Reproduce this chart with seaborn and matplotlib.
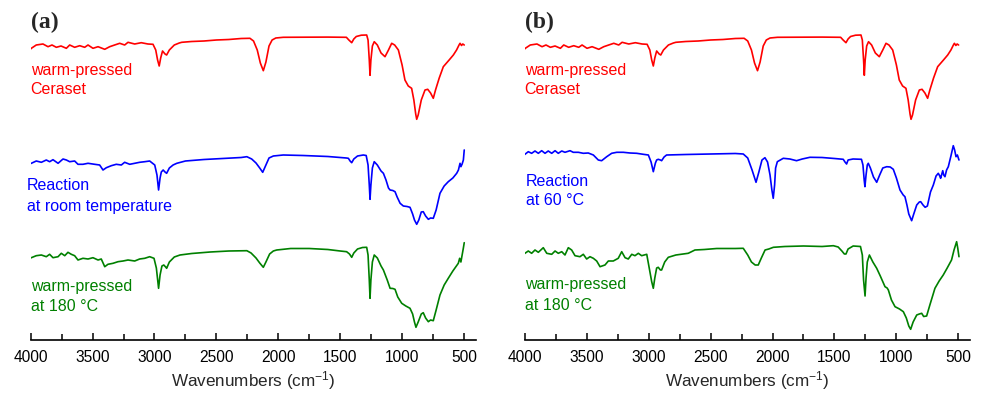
import numpy as np
import matplotlib
matplotlib.use("Agg")
import matplotlib.pyplot as plt
import seaborn as sns
from matplotlib.ticker import MultipleLocator

# ---------------- data (wavenumber cm-1, signal in arbitrary units; larger = lower on plot) ----
red_ceraset = np.array([
    (4000, 49), (3995, 48.3), (3955, 45), (3901, 44), (3860, 46.7), (3828, 45), (3793, 47.3),
    (3755, 46), (3712, 48.3), (3685, 45), (3645, 47.3), (3604, 45.7), (3564, 47.3), (3537, 45),
    (3497, 48.3), (3456, 46.7), (3402, 49.3), (3362, 46.7), (3322, 45), (3281, 43.3), (3241, 45),
    (3214, 42.3), (3160, 44), (3107, 42.7), (3053, 44), (3012, 44.3),
    (2990, 50), (2975, 60), (2962, 66), (2950, 58), (2935, 51), (2915, 54), (2902, 55), (2880, 50),
    (2840, 45), (2800, 43), (2780, 42.3), (2700, 41.5), (2600, 41), (2500, 40), (2400, 39.5),
    (2300, 38.5), (2229, 38.3), (2200, 41), (2170, 50), (2145, 63), (2121, 70.7), (2100, 62),
    (2075, 46), (2050, 40), (2020, 38), (1960, 37.3), (1800, 37.2), (1600, 37.1), (1450, 37.3),
    (1430, 40), (1407, 42.7), (1390, 39), (1370, 36.5), (1330, 35.2), (1286, 35), (1275, 40),
    (1265, 60), (1259, 75.3), (1252, 60), (1240, 46), (1225, 41.7), (1200, 45), (1170, 53),
    (1138, 56.7), (1110, 50), (1084, 43.3), (1060, 45), (1030, 50), (1000, 65), (977, 80),
    (950, 86), (923, 88.3), (905, 100), (890, 114), (882, 119.3), (870, 115), (845, 100),
    (815, 90), (793, 89.3), (770, 93), (748, 98.3), (730, 90), (700, 78), (667, 66.7),
    (620, 60), (586, 55), (560, 50), (540, 45), (532, 43.3), (520, 45.5), (510, 44), (498, 45)])

blue_room_temp = np.array([
    (4000, 163.5), (3995, 163.3), (3955, 161), (3914, 162.3), (3874, 160), (3847, 161.7), (3820, 159.7),
    (3779, 163.3), (3739, 159), (3712, 160), (3685, 161.7), (3645, 161), (3618, 164.3),
    (3578, 164.3), (3537, 163.3), (3483, 164.3), (3443, 165), (3416, 170), (3389, 167.7),
    (3349, 165.7), (3309, 164.3), (3268, 165), (3241, 162.3), (3200, 164.3), (3160, 163.3),
    (3120, 162.3), (3079, 161.7), (3039, 161), (2998, 165),
    (2980, 175), (2967, 190), (2955, 178), (2945, 172), (2930, 170), (2915, 172), (2902, 173.3),
    (2880, 168), (2850, 165), (2820, 163.3), (2750, 161), (2600, 159.5), (2450, 158.5),
    (2300, 157.5), (2254, 156.7), (2215, 159), (2180, 163), (2150, 168), (2126, 172.3),
    (2100, 165), (2075, 158), (2040, 156), (1960, 155), (1800, 155.5), (1600, 156.5),
    (1450, 158), (1434, 158.3), (1420, 161), (1407, 162.7), (1390, 159), (1360, 156),
    (1313, 155), (1290, 155.5), (1275, 165), (1265, 185), (1259, 199.3), (1252, 185),
    (1240, 168), (1225, 161.7), (1200, 165), (1170, 171), (1151, 173.3), (1130, 180),
    (1110, 188), (1097, 190), (1075, 190.5), (1057, 191.7), (1040, 197), (1016, 203.3),
    (990, 206), (960, 206.5), (936, 207.3), (915, 214), (900, 220), (882, 224.3), (865, 220),
    (845, 212), (829, 211.7), (810, 216), (788, 219.3), (770, 218), (748, 218.3), (725, 210),
    (694, 193.3), (660, 186), (627, 181.7), (590, 178), (559, 173.3), (545, 170), (532, 163.3),
    (525, 166.7), (515, 164), (505, 160), (498, 150)])

green_180_a = np.array([
    (4000, 258), (3995, 257.7), (3955, 255.7), (3914, 255), (3874, 256.7), (3847, 254.3), (3820, 257.7),
    (3779, 256.7), (3753, 253.3), (3725, 255.7), (3699, 252.3), (3672, 254.3), (3645, 255.7),
    (3618, 260), (3578, 258.3), (3537, 259), (3497, 257.7), (3456, 260), (3430, 259),
    (3402, 266.7), (3376, 264.3), (3335, 263.3), (3295, 261.7), (3254, 261), (3214, 260),
    (3160, 261), (3120, 259), (3079, 258.3), (3039, 256.7), (3004, 258.3),
    (2985, 268), (2967, 288.3), (2955, 275), (2940, 266), (2925, 265), (2910, 267), (2902, 268.3),
    (2880, 262), (2840, 257), (2794, 255), (2700, 253.5), (2550, 252), (2400, 251),
    (2254, 250.7), (2220, 253), (2180, 258), (2150, 263), (2121, 267.3), (2100, 262),
    (2070, 254), (2040, 251), (2013, 250), (1900, 248.5), (1750, 248.5), (1600, 249.5),
    (1500, 251), (1448, 251.7), (1425, 254), (1407, 257.3), (1390, 253), (1360, 249),
    (1320, 247.5), (1286, 247.3), (1275, 255), (1265, 280), (1259, 298.3), (1252, 280),
    (1240, 262), (1225, 255), (1200, 258), (1170, 266), (1151, 270), (1120, 280),
    (1097, 288.3), (1075, 288.5), (1057, 289.3), (1035, 297), (1003, 303.3), (970, 306),
    (936, 308.3), (915, 314), (900, 322), (888, 327.3), (870, 322), (845, 314), (829, 312.7),
    (810, 318), (788, 321.7), (770, 320), (748, 320.7), (725, 310), (694, 295), (660, 285),
    (627, 278.3), (590, 271), (546, 263.3), (535, 258.3), (525, 262), (515, 255), (505, 248),
    (498, 242.7)])

blue_60C = np.array([
    (4000, 154.5), (3998, 154.3), (3971, 151.7), (3944, 153.3), (3917, 151), (3890, 153.3), (3863, 150.7),
    (3836, 153.3), (3810, 151), (3782, 153.3), (3755, 150.7), (3729, 153.3), (3701, 151),
    (3675, 152.3), (3634, 150.7), (3608, 152.3), (3567, 152.3), (3527, 153.3), (3487, 153),
    (3446, 155), (3406, 160), (3379, 160.7), (3338, 156.7), (3298, 153.3), (3257, 152.3),
    (3204, 152.3), (3150, 153), (3096, 153.3), (3043, 154.3), (3002, 155),
    (2980, 162), (2962, 171.7), (2945, 163), (2935, 160), (2922, 159.3), (2905, 160),
    (2895, 160.7), (2875, 157), (2855, 155), (2700, 154.5), (2500, 154), (2300, 153.5),
    (2236, 154), (2200, 158), (2165, 170), (2133, 182.3), (2110, 172), (2085, 160),
    (2061, 157.7), (2040, 162), (2020, 175), (2005, 190), (1994, 198.3), (1983, 185),
    (1975, 168), (1961, 161.7), (1913, 158.3), (1860, 159), (1806, 160.7), (1760, 159),
    (1698, 157.3), (1600, 157.5), (1500, 158.5), (1429, 159.3), (1415, 162), (1402, 164),
    (1390, 160), (1350, 159), (1282, 159.3), (1270, 165), (1260, 180), (1254, 186.7),
    (1245, 175), (1235, 165), (1227, 163.3), (1210, 168), (1185, 177), (1159, 182.3),
    (1135, 175), (1110, 168), (1078, 166.7), (1050, 167), (1025, 169.3), (1000, 178),
    (971, 190), (945, 195), (931, 196.7), (915, 205), (900, 214), (877, 220.7), (860, 214),
    (836, 205), (815, 202), (804, 201.7), (785, 205), (768, 207.3), (750, 206), (725, 192),
    (702, 185), (680, 176), (662, 173.3), (650, 176), (643, 178.3), (626, 170.7), (618, 175),
    (608, 176.7), (595, 170), (581, 166.7), (560, 156), (541, 145.7), (530, 150), (519, 156.7),
    (508, 155), (495, 160)])

green_180_b = np.array([
    (4000, 253.5), (3998, 253.3), (3971, 251), (3944, 253.3), (3917, 250), (3890, 252.3), (3850, 247.7),
    (3822, 253.3), (3782, 254.3), (3755, 251), (3729, 253.3), (3701, 251.7), (3675, 255),
    (3648, 247.7), (3621, 250), (3594, 255.7), (3554, 256.7), (3527, 254.3), (3500, 259),
    (3473, 256.7), (3446, 258.3), (3419, 261), (3392, 266.7), (3352, 265), (3325, 261),
    (3285, 261), (3245, 258.3), (3217, 251.7), (3190, 257.7), (3164, 259), (3136, 254.3),
    (3110, 255.7), (3083, 253.3), (3056, 255.7), (3015, 254.3),
    (2975, 281.7), (2962, 288.3), (2950, 278), (2935, 268), (2922, 267.3), (2905, 270),
    (2895, 270), (2870, 262), (2841, 257.3), (2780, 255), (2680, 253.3), (2626, 250),
    (2550, 249.5), (2450, 248.5), (2300, 248.5), (2236, 248.3), (2200, 255), (2170, 262),
    (2140, 265), (2115, 265), (2090, 258), (2060, 250), (2030, 249), (1993, 247.3),
    (1900, 246.5), (1750, 246), (1600, 246.5), (1509, 245.7), (1470, 247), (1440, 251),
    (1420, 254), (1407, 254), (1390, 249), (1349, 246), (1290, 246.5), (1275, 255),
    (1265, 280), (1253, 296), (1245, 278), (1235, 262), (1218, 255), (1190, 262),
    (1159, 268.3), (1130, 276), (1092, 286.7), (1075, 288), (1065, 290), (1040, 300),
    (1011, 306.7), (975, 309), (944, 311.7), (920, 318), (900, 326), (885, 329.3), (865, 322),
    (836, 315), (815, 314), (796, 313.3), (780, 316.5), (756, 316), (730, 305), (689, 288.3),
    (655, 281), (622, 275), (590, 268), (555, 260), (535, 250), (514, 241.7), (505, 248),
    (495, 256.7)])

panel_tags = ["(a)", "(b)"]
labels_a = [("warm-pressed", "Ceraset"), ("Reaction", "at room temperature"),
            ("warm-pressed", "at 180 \u00b0C")]
labels_b = [("warm-pressed", "Ceraset"), ("Reaction", "at 60 \u00b0C"),
            ("warm-pressed", "at 180 \u00b0C")]
colors = ["#ff0000", "#0000ff", "#008000"]
xticks = [4000, 3500, 3000, 2500, 2000, 1500, 1000, 500]
xlabel = "Wavenumbers (cm$^{-1}$)"

# ---------------- style ----------------
sns.set_style("ticks")
plt.rcParams["font.family"] = ["Liberation Sans", "DejaVu Sans"]
plt.rcParams["mathtext.default"] = "regular"

W, H = 981, 394
fig = plt.figure(figsize=(W / 100, H / 100), dpi=100)
axis_px = 340

panels = [
    dict(left=30.7, right=476, xmax=403, spectra=[red_ceraset, blue_room_temp, green_180_a],
         labels=labels_a, tag=panel_tags[0],
         label_pos=[(4000, 70, 89), (4032, 186, 206), (4000, 286, 306.5)]),
    dict(left=524.7, right=970, xmax=406, spectra=[red_ceraset, blue_60C, green_180_b],
         labels=labels_b, tag=panel_tags[1],
         label_pos=[(4000, 70, 89), (3990, 181.7, 200.7), (3995, 285, 305)]),
]

for p in panels:
    ax = fig.add_axes([p["left"] / W, (H - axis_px) / H, (p["right"] - p["left"]) / W, axis_px / H])
    ax.set_facecolor("none")
    for spec, col in zip(p["spectra"], colors):
        sns.lineplot(x=spec[:, 0], y=spec[:, 1], ax=ax, color=col, lw=1.2, sort=False,
                     estimator=None)
    ax.set_xlim(4000, p["xmax"])
    ax.set_ylim(axis_px, 0)
    ax.set_yticks([])
    ax.set_xticks(xticks)
    ax.xaxis.set_minor_locator(MultipleLocator(250))
    for s in ["left", "right", "top"]:
        ax.spines[s].set_visible(False)
    ax.spines["bottom"].set_linewidth(1.2)
    ax.spines["bottom"].set_color("black")
    ax.tick_params(axis="x", which="major", direction="in", length=5, width=1.1,
                   labelsize=11.2, pad=7, colors="black")
    ax.tick_params(axis="x", which="minor", direction="in", length=4, width=1.1, colors="black")
    ax.set_xlabel(xlabel, fontsize=12.3, labelpad=3)
    for (l1, l2), (xw, y1, y2), col in zip(p["labels"], p["label_pos"], colors):
        ax.text(xw, y1, l1, color=col, fontsize=11.5, ha="left", va="center")
        ax.text(xw, y2, l2, color=col, fontsize=11.5, ha="left", va="center")
    ax.text(4000, 22, p["tag"], fontsize=17, fontweight="bold", ha="left", va="center",
            family=["Liberation Serif", "DejaVu Serif"])

fig.savefig("out.png", dpi=100)
